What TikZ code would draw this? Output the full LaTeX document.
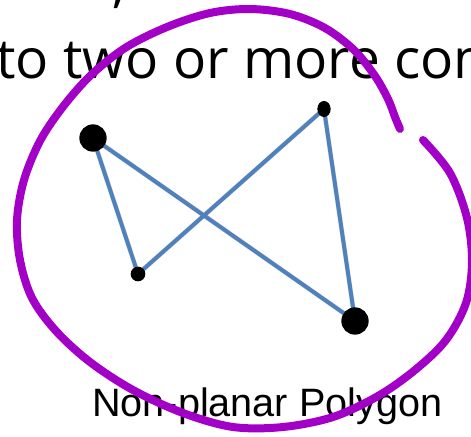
\documentclass[tikz,border=0pt]{standalone}
\usepackage{fontspec}
\usetikzlibrary{shapes.geometric}
\newfontfamily\topfont{Open Sans}
\newfontfamily\labfont{Liberation Sans}
\definecolor{edgeblue}{RGB}{79,129,189}
\definecolor{penpurple}{RGB}{163,0,199}
\tikzset{
  edge/.style={edgeblue, line width=3pt},
  edgeshadow/.style={black!25, line width=3.6pt, opacity=0.5},
  bigdot/.style={circle, fill=black, inner sep=0pt, minimum size=20.5pt},
  smalldot/.style={circle, fill=black, inner sep=0pt, minimum size=11pt},
  pen/.style={penpurple, line width=6pt, line cap=round, line join=round},
  toptext/.style={anchor=base west, inner sep=0pt, font=\topfont\fontsize{41.3pt}{48pt}\selectfont},
  labtext/.style={anchor=base west, inner sep=0pt, font=\labfont\fontsize{29.7pt}{34pt}\selectfont}
}
\begin{document}
\begin{tikzpicture}[x=0.75pt, y=-0.75pt]
\useasboundingbox (0,0) rectangle (471,436);
\clip (0,0) rectangle (471,436);
% text of the page
\node[toptext] (comma) at (112,1) {,};
\node[toptext] (line) at (-4,78) {to two or more com};
% vertices
\coordinate (pA) at (93,138);
\coordinate (pB) at (138,274);
\coordinate (pC) at (324,109);
\coordinate (pD) at (355,321);
% shadows of the edges
\begin{scope}[shift={(1.5,1.5)}]
\draw[edgeshadow] (pA) -- (pB) -- (pC) -- (pD) -- cycle;
\end{scope}
\draw[edge] (pA) -- (pB) -- (pC) -- (pD) -- cycle;
\node[bigdot] (A) at (pA) {};
\node[smalldot] (B) at (pB) {};
\node[ellipse, fill=black, inner sep=0pt, minimum width=10pt, minimum height=12pt] (C) at (pC) {};
\node[bigdot] (D) at (pD) {};
\node[labtext] (lab) at (92,416) {Non-planar Polygon};
% hand drawn purple loop
\draw[pen] plot[smooth, tension=0.55] coordinates {
 (423,140) (450,173) (467,218) (472,262) (466,303) (446,340) (415,370) (378,396)
 (333,417) (283,427) (233,427) (183,413) (133,390) (90,362) (56,331) (32,298)
 (20,260) (17,220) (24,180) (40,141) (62,108) (90,76) (125,48) (167,27) (210,13)
 (250,9) (290,14) (325,28) (354,50) (375,76) (388,99) (395,117) (400,129)};
\end{tikzpicture}
\end{document}
